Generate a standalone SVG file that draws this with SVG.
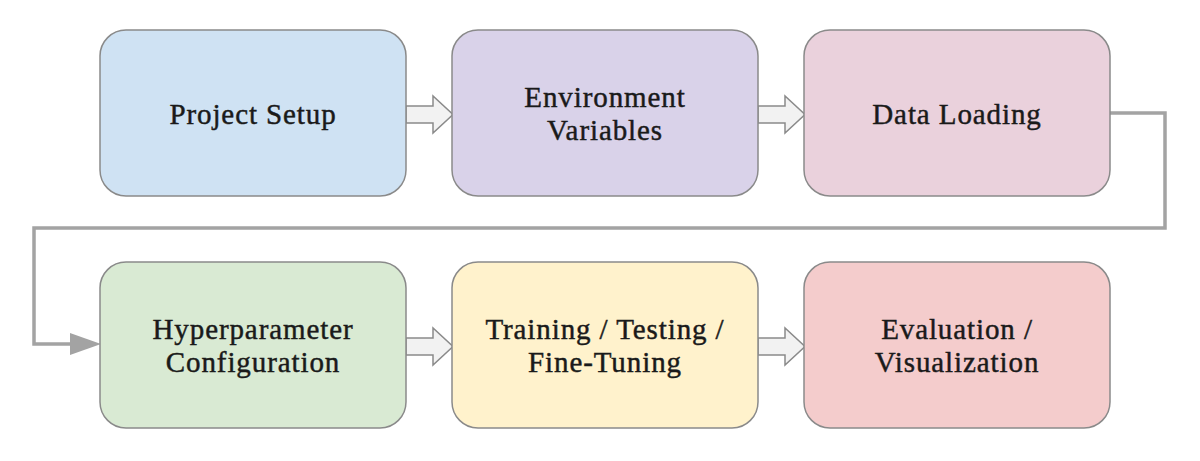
<svg xmlns="http://www.w3.org/2000/svg" width="1200" height="461" viewBox="0 0 1200 461">
<defs>
<style>
.box{stroke:#8a8a8a;stroke-width:1.5}
.lbl{font-family:"Liberation Serif","DejaVu Serif",serif;font-size:29px;fill:#1a1a1a;stroke:#1a1a1a;stroke-width:0.45;text-anchor:middle;letter-spacing:0.9px}
.blk{fill:#f2f2f2;stroke:#8a8a8a;stroke-width:1.5}
.conn{fill:none;stroke:#a3a3a3;stroke-width:3.5}
</style>
</defs>
<rect width="1200" height="461" fill="#ffffff"/>
<g id="connectors">
<path class="blk" d="M406,106 L433,106 L433,96 L453,114.5 L433,133 L433,123 L406,123 Z"/>
<path class="blk" d="M758,106 L785,106 L785,96 L805,114.5 L785,133 L785,123 L758,123 Z"/>
<path class="blk" d="M406,338 L433,338 L433,328 L453,346.5 L433,365 L433,355 L406,355 Z"/>
<path class="blk" d="M758,338 L785,338 L785,328 L805,346.5 L785,365 L785,355 L758,355 Z"/>
<path class="conn" d="M1110,113 L1165,113 L1165,228 L34,228 L34,344 L72,344"/>
<path d="M70,333 L101,344 L70,355 Z" fill="#a3a3a3"/>
</g>
<g id="n1"><rect class="box" x="100" y="30" width="306" height="166" rx="26" fill="#cfe2f3"/><text class="lbl" x="253" y="124">Project Setup</text></g>
<g id="n2"><rect class="box" x="452" y="30" width="306" height="166" rx="26" fill="#d9d2e9"/><text class="lbl" x="605" y="107">Environment</text><text class="lbl" x="605" y="140">Variables</text></g>
<g id="n3"><rect class="box" x="804" y="30" width="306" height="166" rx="26" fill="#ead1dc"/><text class="lbl" x="957" y="124">Data Loading</text></g>
<g id="n4"><rect class="box" x="100" y="262" width="306" height="166" rx="26" fill="#d9ead3"/><text class="lbl" x="253" y="339">Hyperparameter</text><text class="lbl" x="253" y="372">Configuration</text></g>
<g id="n5"><rect class="box" x="452" y="262" width="306" height="166" rx="26" fill="#fff2cc"/><text class="lbl" x="605" y="339">Training / Testing /</text><text class="lbl" x="605" y="372">Fine-Tuning</text></g>
<g id="n6"><rect class="box" x="804" y="262" width="306" height="166" rx="26" fill="#f4cccc"/><text class="lbl" x="957" y="339">Evaluation /</text><text class="lbl" x="957" y="372">Visualization</text></g>
</svg>
